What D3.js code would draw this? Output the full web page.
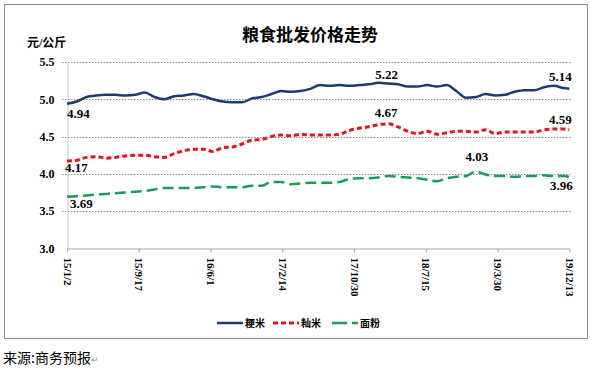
<!DOCTYPE html>
<html>
<head>
<meta charset="utf-8">
<script src="https://cdn.jsdelivr.net/npm/d3@7"></script>
<style>
  body { margin: 0; background: #fff; }
  svg { display: block; }
</style>
</head>
<body>
<div id="chart"></div>
<script>
// Sample dates (roughly every five weeks) and axis labels
const dates = [
    '2015-01-02', '2015-02-06', '2015-03-13', '2015-04-17', '2015-05-22', '2015-06-26',
    '2015-07-31', '2015-09-04', '2015-10-09', '2015-11-13', '2015-12-18', '2016-01-22',
    '2016-02-26', '2016-04-01', '2016-05-06', '2016-06-10', '2016-07-15', '2016-08-19',
    '2016-09-23', '2016-10-28', '2016-12-02', '2017-01-06', '2017-02-10', '2017-03-17',
    '2017-04-21', '2017-05-26', '2017-06-30', '2017-08-04', '2017-09-08', '2017-10-13',
    '2017-11-17', '2017-12-22', '2018-01-26', '2018-03-02', '2018-04-06', '2018-05-11',
    '2018-06-15', '2018-07-20', '2018-08-24', '2018-09-28', '2018-11-02', '2018-12-07',
    '2019-01-11', '2019-02-15', '2019-03-22', '2019-04-26', '2019-05-31', '2019-07-05',
    '2019-08-09', '2019-09-13', '2019-10-18', '2019-11-22', '2019-12-13'
];

const tickDates = ['2015-01-02', '2015-09-17', '2016-06-01', '2017-02-14',
    '2017-10-30', '2018-07-15', '2019-03-30', '2019-12-13'];
const tickLabels = ['15/1/2', '15/9/17', '16/6/1', '17/2/14', '17/10/30', '18/7/15', '19/3/30', '19/12/13'];

const yTicks = [3.0, 3.5, 4.0, 4.5, 5.0, 5.5];

// 粳米
const japonica = [
    4.94, 4.97, 5.03, 5.05, 5.06, 5.06, 5.05, 5.06, 5.09, 5.03, 5.00, 5.04,
    5.05, 5.07, 5.04, 5.00, 4.97, 4.96, 4.96, 5.01, 5.03, 5.07, 5.11, 5.10,
    5.11, 5.14, 5.19, 5.18, 5.19, 5.18, 5.19, 5.20, 5.22, 5.21, 5.20, 5.17,
    5.17, 5.19, 5.17, 5.19, 5.11, 5.02, 5.03, 5.07, 5.05, 5.06, 5.10, 5.12,
    5.12, 5.16, 5.18, 5.15, 5.14
];

// 籼米
const indica = [
    4.17, 4.18, 4.22, 4.23, 4.21, 4.22, 4.24, 4.25, 4.25, 4.23, 4.22, 4.27,
    4.31, 4.33, 4.33, 4.30, 4.35, 4.36, 4.40, 4.45, 4.46, 4.50, 4.52, 4.51,
    4.53, 4.52, 4.52, 4.52, 4.53, 4.58, 4.61, 4.63, 4.66, 4.67, 4.63, 4.57,
    4.54, 4.57, 4.53, 4.55, 4.57, 4.57, 4.56, 4.59, 4.54, 4.56, 4.56, 4.56,
    4.56, 4.59, 4.60, 4.60, 4.59
];

// 面粉
const flour = [
    3.69, 3.70, 3.71, 3.72, 3.73, 3.74, 3.75, 3.76, 3.77, 3.79, 3.81, 3.81,
    3.81, 3.81, 3.82, 3.83, 3.82, 3.82, 3.82, 3.84, 3.84, 3.89, 3.89, 3.86,
    3.87, 3.88, 3.88, 3.88, 3.89, 3.93, 3.94, 3.94, 3.95, 3.97, 3.96, 3.95,
    3.94, 3.92, 3.90, 3.94, 3.96, 3.97, 4.03, 3.99, 3.97, 3.97, 3.96, 3.97,
    3.97, 3.98, 3.97, 3.97, 3.96
];

const seriesNames = ['粳米', '籼米', '面粉'];

document.addEventListener('DOMContentLoaded', function() {
    drawChart();
});

function drawChart() {
    const width = 591;
    const height = 369;
    const margin = { top: 62, right: 21, bottom: 121, left: 67 };
    const parse = d3.timeParse('%Y-%m-%d');

    const svg = d3.select('#chart')
        .append('svg')
        .attr('width', width)
        .attr('height', height);

    // outer frame
    svg.append('rect')
        .attr('x', 4.5)
        .attr('y', 4.5)
        .attr('width', 583)
        .attr('height', 334)
        .attr('fill', '#fff')
        .attr('stroke', '#8c8c8c');

    const x = d3.scaleTime()
        .domain([parse(dates[0]), parse(dates[dates.length - 1])])
        .range([margin.left, width - margin.right - 0.7]);

    const y = d3.scaleLinear()
        .domain([3, 5.5])
        .range([height - margin.bottom + 0.3, margin.top]);

    // title
    svg.append('text')
        .attr('x', 310)
        .attr('y', 41)
        .attr('text-anchor', 'middle')
        .style('font-family', '"Noto Sans CJK SC", sans-serif')
        .style('font-weight', 'bold')
        .style('font-size', '17px')
        .text('粮食批发价格走势');

    // unit
    svg.append('text')
        .attr('x', 27)
        .attr('y', 47)
        .style('font-family', '"Liberation Serif", "Noto Sans CJK SC", serif')
        .style('font-weight', 'bold')
        .style('font-size', '12px')
        .text('元/公斤');

    // gridlines
    svg.selectAll('.grid')
        .data(yTicks.slice(1))
        .enter()
        .append('line')
        .attr('class', 'grid')
        .attr('x1', margin.left - 5)
        .attr('x2', width - margin.right + 1)
        .attr('y1', d => Math.round(y(d)) + 0.5)
        .attr('y2', d => Math.round(y(d)) + 0.5)
        .attr('stroke', '#8a8a8a')
        .attr('stroke-dasharray', '1.5,1.5');

    // y axis
    const yAxis = svg.append('g')
        .attr('transform', `translate(${margin.left + 0.5},0)`)
        .call(d3.axisLeft(y).tickValues(yTicks).tickSize(0).tickPadding(13).tickFormat(d3.format('.1f')));
    yAxis.select('.domain').attr('stroke', '#c8c8c8');
    yAxis.selectAll('text')
        .style('font-family', '"Liberation Serif", serif')
        .style('font-weight', 'bold')
        .style('font-size', '12px')
        .attr('fill', '#000');

    // x axis
    const xAxis = svg.append('g')
        .attr('transform', `translate(0,${Math.round(y(3)) + 0.5})`)
        .call(d3.axisBottom(x)
            .tickValues(tickDates.map(parse))
            .tickSize(4)
            .tickSizeOuter(0)
            .tickFormat((d, i) => tickLabels[i]));
    xAxis.select('.domain').attr('stroke', '#a8a8a8');
    xAxis.selectAll('.tick line').attr('stroke', '#a8a8a8');
    xAxis.selectAll('text')
        .attr('transform', 'translate(0,9) rotate(90)')
        .attr('x', 0)
        .attr('y', 0)
        .attr('dy', '0.35em')
        .style('text-anchor', 'start')
        .style('font-family', '"Liberation Serif", serif')
        .style('font-weight', 'bold')
        .style('font-size', '11px')
        .attr('fill', '#000');

    const series = [
        { name: seriesNames[0], values: japonica, color: '#1f3b6e', dash: null, width: 2.5 },
        { name: seriesNames[1], values: indica, color: '#e3161e', dash: '5,3', width: 3 },
        { name: seriesNames[2], values: flour, color: '#1c9c55', dash: '11,5', width: 2.5 }
    ];

    const line = d3.line()
        .x((d, i) => x(parse(dates[i])))
        .y(d => y(d))
        .curve(d3.curveMonotoneX);

    series.forEach(s => {
        svg.append('path')
            .datum(s.values)
            .attr('fill', 'none')
            .attr('stroke', s.color)
            .attr('stroke-width', s.width)
            .attr('stroke-dasharray', s.dash)
            .attr('stroke-linejoin', 'round')
            .attr('d', line);
    });

    // data labels: [series, index, dx, dy, anchor]
    const last = dates.length - 1;
    const labelSpots = [
        [japonica, 0, 0, 14, 'start'],
        [indica, 0, -2, 11, 'start'],
        [flour, 0, 3, 11, 'start'],
        [japonica, 32, 8, -4, 'middle'],
        [indica, 33, -2, -7, 'middle'],
        [japonica, last, -9, -8, 'middle'],
        [indica, last, -9, -6, 'middle'],
        [flour, 42, 1, -11, 'middle'],
        [flour, last, -8, 13, 'middle']
    ];

    svg.selectAll('.dlabel')
        .data(labelSpots)
        .enter()
        .append('text')
        .attr('class', 'dlabel')
        .attr('x', d => x(parse(dates[d[1]])) + d[2])
        .attr('y', d => y(d[0][d[1]]) + d[3])
        .attr('text-anchor', d => d[4])
        .style('font-family', '"Liberation Serif", serif')
        .style('font-weight', 'bold')
        .style('font-size', '13px')
        .text(d => d[0][d[1]].toFixed(2));

    // legend
    const legendX = [217, 273, 332];
    const legend = svg.selectAll('.legend')
        .data(series)
        .enter()
        .append('g')
        .attr('class', 'legend')
        .attr('transform', (d, i) => `translate(${legendX[i]},323)`);

    legend.append('line')
        .attr('x1', 0)
        .attr('x2', 26)
        .attr('stroke', d => d.color)
        .attr('stroke-width', d => d.width)
        .attr('stroke-dasharray', (d, i) => i === 2 ? '15,5' : d.dash);

    legend.append('text')
        .attr('x', 28)
        .attr('y', 4)
        .style('font-family', '"Noto Sans CJK SC", sans-serif')
        .style('font-weight', 'bold')
        .style('font-size', '10px')
        .text(d => d.name);

    // source note
    const note = svg.append('text')
        .attr('x', 3)
        .attr('y', 363)
        .style('font-family', '"Noto Sans CJK SC", sans-serif')
        .style('font-size', '14px');
    note.append('tspan').text('来源:商务预报');
    note.append('tspan')
        .attr('fill', '#999')
        .style('font-size', '9px')
        .text('↵');
}
</script>
</body>
</html>
